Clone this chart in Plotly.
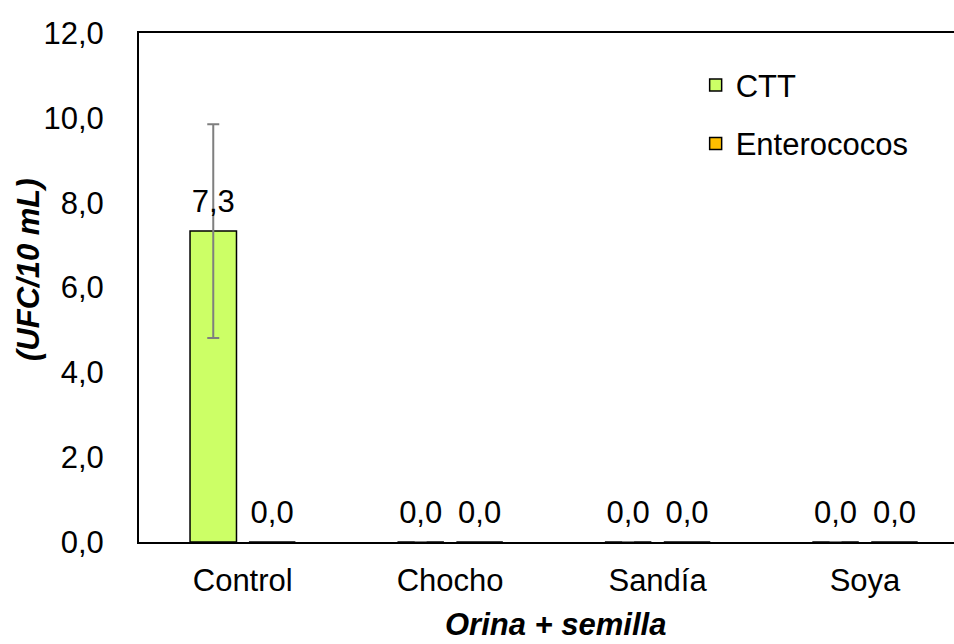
import plotly.graph_objects as go

categories = ["Control", "Chocho", "Sandía", "Soya"]
ctt_values = [7.33, 0.0, 0.0, 0.0]
ctt_errors = [2.52, 0.0, 0.0, 0.0]
ent_values = [0.0, 0.0, 0.0, 0.0]
y_tickvals = [0, 2, 4, 6, 8, 10, 12]
y_ticktext = ["0,0", "2,0", "4,0", "6,0", "8,0", "10,0", "12,0"]

FONT = "Liberation Sans, Arial, sans-serif"
FS = 31
OFF = 0.142
BW = 0.224
idx = list(range(len(categories)))
x_ctt = [i - OFF for i in idx]
x_ent = [i + OFF for i in idx]

def fmt(v):
    return f"{v:.1f}".replace(".", ",")

fig = go.Figure()
fig.add_trace(go.Bar(
    x=x_ctt, y=ctt_values, width=BW, name="CTT",
    marker=dict(color="#CCFF66", line=dict(color="#000000", width=1.5)),
    error_y=dict(type="data", array=ctt_errors, visible=True,
                 color="#7F7F7F", thickness=2, width=6),
    legendgroup="a", hoverinfo="skip",
))
fig.add_trace(go.Bar(
    x=x_ent, y=ent_values, width=BW, name="Enterococos",
    marker=dict(color="#FFC000", line=dict(color="#000000", width=1.5)),
    legendgroup="b", hoverinfo="skip",
))
# value labels
for xs, vals in ((x_ctt, ctt_values), (x_ent, ent_values)):
    fig.add_trace(go.Scatter(
        x=xs, y=vals, mode="markers+text", text=[fmt(v) for v in vals],
        textposition="top center",
        marker=dict(size=16, color="rgba(0,0,0,0)"),
        textfont=dict(family=FONT, size=FS, color="#000000"),
        showlegend=False, hoverinfo="skip", cliponaxis=False,
    ))

fig.update_layout(
    width=954, height=644, autosize=False,
    margin=dict(l=139, r=0, t=33, b=102),
    paper_bgcolor="white", plot_bgcolor="white",
    font=dict(family=FONT, size=FS, color="#000000"),
    showlegend=True,
    legend=dict(x=0.683, y=0.95, xanchor="left", yanchor="top",
                font=dict(family=FONT, size=FS), tracegroupgap=15,
                bgcolor="rgba(0,0,0,0)"),
    xaxis=dict(range=[-0.5, 3.429], tickmode="array", tickvals=idx,
               ticktext=categories, showline=True, linecolor="#000000",
               linewidth=2, mirror=True, showgrid=False, zeroline=False,
               ticks="", ticklabelstandoff=10,
               tickfont=dict(family=FONT, size=FS)),
    yaxis=dict(range=[0, 12], tickmode="array", tickvals=y_tickvals,
               ticktext=y_ticktext, showline=True, linecolor="#000000",
               linewidth=2, showgrid=False, zeroline=False, ticks="",
               ticklabelstandoff=27, tickfont=dict(family=FONT, size=FS)),
    annotations=[
        dict(text="<b><i>Orina + semilla</i></b>", xref="paper", yref="paper",
             x=(555 - 139) / 815, y=-(624 - 542) / 509, xanchor="center",
             yanchor="middle", showarrow=False,
             font=dict(family=FONT, size=FS)),
        dict(text="<b><i>(UFC/10 mL)</i></b>", xref="paper", yref="paper",
             x=-(139 - 28) / 815, y=(542 - 270) / 509, xanchor="center",
             yanchor="middle", showarrow=False, textangle=-90,
             font=dict(family=FONT, size=FS)),
    ],
)

post = ("document.body.style.margin='0';"
        "document.body.style.padding='0';"
        "document.body.style.overflow='hidden';"
        "Plotly.relayout('{plot_id}', {width: 954, height: 644});")
fig.write_html("out.html", config={"responsive": False, "displayModeBar": False},
               post_script=post)
